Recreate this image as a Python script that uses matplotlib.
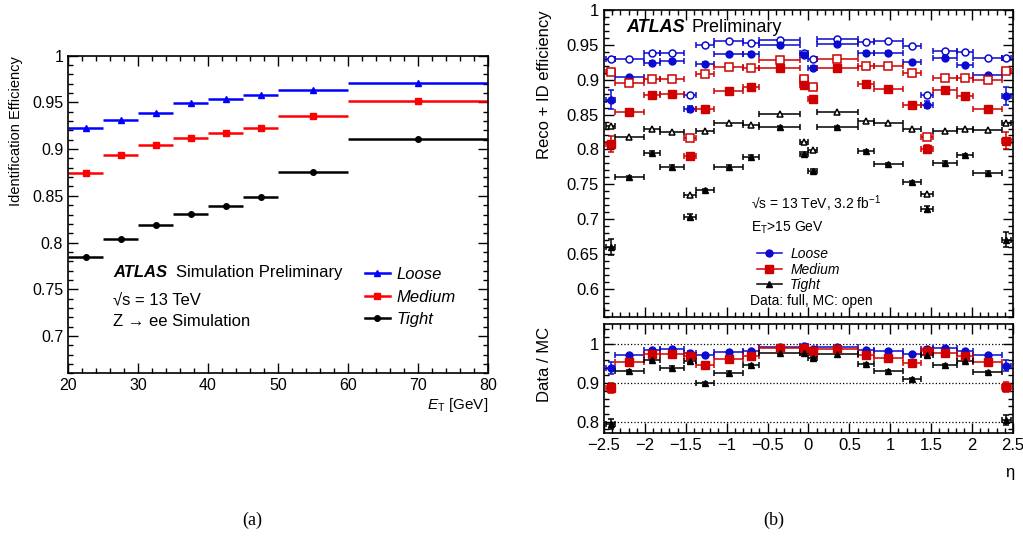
import numpy as np
import matplotlib.pyplot as plt
from matplotlib.ticker import MultipleLocator
from matplotlib.lines import Line2D

plt.rcParams['font.family'] = ['Liberation Sans', 'DejaVu Sans']
plt.rcParams['mathtext.fontset'] = 'custom'
plt.rcParams['mathtext.rm'] = 'Liberation Sans'
plt.rcParams['mathtext.it'] = 'Liberation Sans:italic'
plt.rcParams['mathtext.bf'] = 'Liberation Sans:bold'
plt.rcParams['axes.unicode_minus'] = True

# ---- (a) identification efficiency vs E_T (simulation) ----
et_edges = [20, 25, 30, 35, 40, 45, 50, 60, 80]
id_loose = [0.923, 0.9315, 0.9386, 0.9493, 0.9536, 0.9583, 0.9633, 0.9704]
id_medium = [0.8747, 0.8937, 0.9044, 0.9119, 0.9172, 0.9226, 0.9354, 0.9515]
id_tight = [0.7848, 0.804, 0.8188, 0.8302, 0.8391, 0.849, 0.8751, 0.9105]

# ---- (b) reco + ID efficiency vs eta ----
eta_edges = [-2.47, -2.37, -2.01, -1.81, -1.52, -1.37, -1.15, -0.8, -0.6, -0.1, 0.0,
             0.1, 0.6, 0.8, 1.15, 1.37, 1.52, 1.81, 2.01, 2.37, 2.47]

mc_loose = [0.930, 0.930, 0.9386, 0.9386, 0.8776, 0.950, 0.9552, 0.9529, 0.9576, 0.938,
            0.9295, 0.958, 0.9548, 0.9552, 0.949, 0.8776, 0.9405, 0.9395, 0.9314, 0.9314]
data_loose = [0.8714, 0.9038, 0.9243, 0.9271, 0.858, 0.9229, 0.9362, 0.9371, 0.9505, 0.9357,
              0.9171, 0.9514, 0.9386, 0.9386, 0.9252, 0.8643, 0.9314, 0.921, 0.9062, 0.8767]
err_loose = [0.014, 0.002, 0.002, 0.002, 0.005, 0.002, 0.002, 0.002, 0.002, 0.003,
             0.003, 0.002, 0.002, 0.002, 0.002, 0.005, 0.002, 0.002, 0.002, 0.013]

mc_medium = [0.911, 0.8948, 0.9005, 0.9005, 0.8171, 0.9086, 0.9181, 0.9167, 0.9276, 0.9014,
             0.8895, 0.929, 0.919, 0.919, 0.910, 0.818, 0.9029, 0.9029, 0.899, 0.9129]
data_medium = [0.8076, 0.8533, 0.8776, 0.879, 0.7905, 0.858, 0.8838, 0.890, 0.9171, 0.8929,
               0.8719, 0.9171, 0.8938, 0.8871, 0.8643, 0.801, 0.8848, 0.8762, 0.8576, 0.8124]
err_medium = [0.012, 0.002, 0.002, 0.002, 0.005, 0.002, 0.002, 0.002, 0.002, 0.003,
              0.003, 0.002, 0.002, 0.002, 0.002, 0.005, 0.002, 0.002, 0.002, 0.012]

mc_tight = [0.8333, 0.818, 0.830, 0.8252, 0.7347, 0.8266, 0.838, 0.8347, 0.8504, 0.8109,
            0.799, 0.8537, 0.8409, 0.8386, 0.8294, 0.7357, 0.8266, 0.830, 0.8276, 0.838]
data_tight = [0.660, 0.760, 0.7952, 0.7752, 0.7037, 0.7419, 0.7752, 0.7894, 0.8319, 0.7929,
              0.7695, 0.8323, 0.7976, 0.779, 0.7529, 0.7147, 0.781, 0.7919, 0.7667, 0.6705]
err_tight = [0.011, 0.002, 0.002, 0.003, 0.004, 0.002, 0.002, 0.002, 0.002, 0.003,
             0.003, 0.002, 0.002, 0.002, 0.002, 0.004, 0.002, 0.002, 0.002, 0.011]

ratio_loose = [0.939, 0.973, 0.985, 0.989, 0.979, 0.973, 0.981, 0.984, 0.994, 0.9965,
               0.989, 0.994, 0.985, 0.983, 0.9765, 0.988, 0.992, 0.982, 0.974, 0.945]
ratio_medium = [0.888, 0.955, 0.975, 0.9765, 0.970, 0.946, 0.9635, 0.970, 0.9896, 0.991,
                0.9826, 0.988, 0.973, 0.966, 0.952, 0.982, 0.979, 0.971, 0.954, 0.890]
ratio_tight = [0.794, 0.931, 0.959, 0.940, 0.958, 0.899, 0.927, 0.947, 0.977, 0.978,
               0.964, 0.9765, 0.950, 0.930, 0.9096, 0.973, 0.946, 0.9565, 0.928, 0.804]
rerr_loose = [0.015, 0.002, 0.002, 0.002, 0.005, 0.002, 0.002, 0.002, 0.002, 0.003,
              0.003, 0.002, 0.002, 0.002, 0.002, 0.005, 0.002, 0.002, 0.002, 0.014]
rerr_medium = [0.013, 0.002, 0.002, 0.002, 0.005, 0.002, 0.002, 0.002, 0.002, 0.003,
               0.003, 0.002, 0.002, 0.002, 0.002, 0.005, 0.002, 0.002, 0.002, 0.013]
rerr_tight = [0.013, 0.003, 0.003, 0.003, 0.005, 0.003, 0.003, 0.003, 0.002, 0.003,
              0.003, 0.002, 0.003, 0.003, 0.003, 0.005, 0.003, 0.003, 0.003, 0.013]

labels = ['Loose', 'Medium', 'Tight']


def root_style(ax, xmaj, xmin, ymaj, ymin):
    ax.xaxis.set_major_locator(MultipleLocator(xmaj))
    ax.xaxis.set_minor_locator(MultipleLocator(xmin))
    ax.yaxis.set_major_locator(MultipleLocator(ymaj))
    ax.yaxis.set_minor_locator(MultipleLocator(ymin))
    ax.tick_params(which='both', direction='in', top=True, right=True, width=1)
    ax.tick_params(which='major', length=7)
    ax.tick_params(which='minor', length=3.5)
    for s in ax.spines.values():
        s.set_linewidth(1.2)


fmt_g = plt.FuncFormatter(lambda v, p: ('%g' % round(v, 3)).replace('-', '\u2212'))

fig = plt.figure(figsize=(10.23, 5.38), dpi=100)

# ================= (a) =================
ax1 = fig.add_axes([0.0665, 0.306, 0.4106, 0.5905])
e = np.array(et_edges, dtype=float)
et_c = (e[:-1] + e[1:]) / 2
et_hw = (e[1:] - e[:-1]) / 2

styles_a = [(id_loose, '#0000ff', '^', 4.0), (id_medium, '#ff0000', 's', 5.0), (id_tight, 'black', 'o', 4.0)]
for vals, col, mk, ms in styles_a:
    ax1.errorbar(et_c, vals, xerr=et_hw, fmt=mk, color=col, ms=ms, elinewidth=1.8, capsize=0)

ax1.set_xlim(20, 80)
ax1.set_ylim(0.66, 1.0)
root_style(ax1, 10, 2, 0.05, 0.01)
ax1.tick_params(labelsize=11.5)
ax1.yaxis.set_major_formatter(fmt_g)
ax1.set_ylabel('Identification Efficiency', fontsize=10.5, loc='top')
ax1.yaxis.set_label_coords(-0.108, 1.0)
ax1.set_xlabel(r'$E_{\mathrm{T}}$ [GeV]', fontsize=11, loc='right')
ax1.xaxis.set_label_coords(1.0, -0.072)

ax1.text(0.107, 0.316, 'ATLAS', fontsize=12, fontweight='bold', style='italic',
         transform=ax1.transAxes, va='center')
ax1.text(0.257, 0.316, 'Simulation Preliminary', fontsize=12, transform=ax1.transAxes, va='center')
ax1.text(0.107, 0.231, '\u221as = 13 TeV', fontsize=12, transform=ax1.transAxes, va='center')
ax1.text(0.107, 0.162, 'Z \u2192 ee Simulation', fontsize=12, transform=ax1.transAxes, va='center')

h_a = [Line2D([], [], color=c, marker=m, ms=s, lw=1.8) for _, c, m, s in styles_a]
ax1.legend(h_a, labels, loc='upper left', bbox_to_anchor=(0.69, 0.355), frameon=False,
           handlelength=1.5, handletextpad=0.4, labelspacing=0.45, borderaxespad=0,
           prop={'size': 12, 'style': 'italic'})

# ================= (b) top =================
ax2 = fig.add_axes([0.5904, 0.4113, 0.3998, 0.5701])
ax3 = fig.add_axes([0.5904, 0.1946, 0.3998, 0.2032], sharex=ax2)

g = np.array(eta_edges)
eta_c = (g[:-1] + g[1:]) / 2
eta_hw = (g[1:] - g[:-1]) / 2

blue = '#0a0ad0'
red = '#d00000'
sets_b = [
    (mc_loose, data_loose, err_loose, ratio_loose, rerr_loose, blue, 'o', 5.0),
    (mc_medium, data_medium, err_medium, ratio_medium, rerr_medium, red, 's', 5.5),
    (mc_tight, data_tight, err_tight, ratio_tight, rerr_tight, 'black', '^', 5.0),
]
for mc, dat, err, rat, rerr, col, mk, ms in sets_b:
    ax2.errorbar(eta_c, mc, xerr=eta_hw, fmt=mk, color=col, mfc='white', mec=col, mew=1.1,
                 ms=ms, elinewidth=1.1, capsize=2.5, capthick=1.1)
    ax2.errorbar(eta_c, dat, xerr=eta_hw, yerr=err, fmt=mk, color=col, ms=ms,
                 elinewidth=1.1, capsize=2.5, capthick=1.1)
    ax3.errorbar(eta_c, rat, xerr=eta_hw, yerr=rerr, fmt=mk, color=col, ms=ms,
                 elinewidth=1.1, capsize=2.5, capthick=1.1)

ax2.set_xlim(-2.5, 2.5)
ax2.set_ylim(0.56, 1.0)
root_style(ax2, 0.5, 0.1, 0.05, 0.01)
ax2.tick_params(labelsize=12)
ax2.tick_params(axis='x', labelbottom=False)
ax2.yaxis.set_major_formatter(fmt_g)
ax2.set_ylabel('Reco + ID efficiency', fontsize=12, loc='top')
ax2.yaxis.set_label_coords(-0.128, 1.0)

ax2.text(0.055, 0.944, 'ATLAS', fontsize=13, fontweight='bold', style='italic',
         transform=ax2.transAxes, va='center')
ax2.text(0.2144, 0.944, 'Preliminary', fontsize=13, transform=ax2.transAxes, va='center')
ax2.text(0.36, 0.37, '\u221as = 13 TeV, 3.2 fb$^{-1}$', fontsize=10,
         transform=ax2.transAxes, va='center')
ax2.text(0.36, 0.2915, r'E$_{\mathrm{T}}$>15 GeV', fontsize=10, transform=ax2.transAxes, va='center')
ax2.text(0.357, 0.052, 'Data: full, MC: open', fontsize=10, transform=ax2.transAxes, va='center')

h_b = [Line2D([], [], color=c, marker=m, ms=s, lw=1.1) for *_, c, m, s in sets_b]
ax2.legend(h_b, labels, loc='upper left', bbox_to_anchor=(0.36, 0.245), frameon=False,
           handlelength=1.8, handletextpad=0.6, labelspacing=0.1, borderaxespad=0,
           prop={'size': 10, 'style': 'italic'})

# ================= (b) ratio =================
ax3.set_ylim(0.77, 1.053)
root_style(ax3, 0.5, 0.1, 0.1, 0.02)
ax3.tick_params(labelsize=12)
ax3.yaxis.set_major_formatter(fmt_g)
ax3.xaxis.set_major_formatter(fmt_g)
for lvl in [1.0, 0.9, 0.8]:
    ax3.axhline(lvl, color='black', ls=':', lw=0.9, zorder=0)
ax3.set_ylabel('Data / MC', fontsize=12, loc='top')
ax3.yaxis.set_label_coords(-0.128, 0.97)

fig.text(0.9873, 0.122, '\u03b7', fontsize=12, ha='center', va='center')

fig.text(0.247, 0.032, '(a)', fontsize=13, family='Liberation Serif', ha='center', va='center')
fig.text(0.756, 0.032, '(b)', fontsize=13, family='Liberation Serif', ha='center', va='center')

fig.savefig('out.png', dpi=100)
